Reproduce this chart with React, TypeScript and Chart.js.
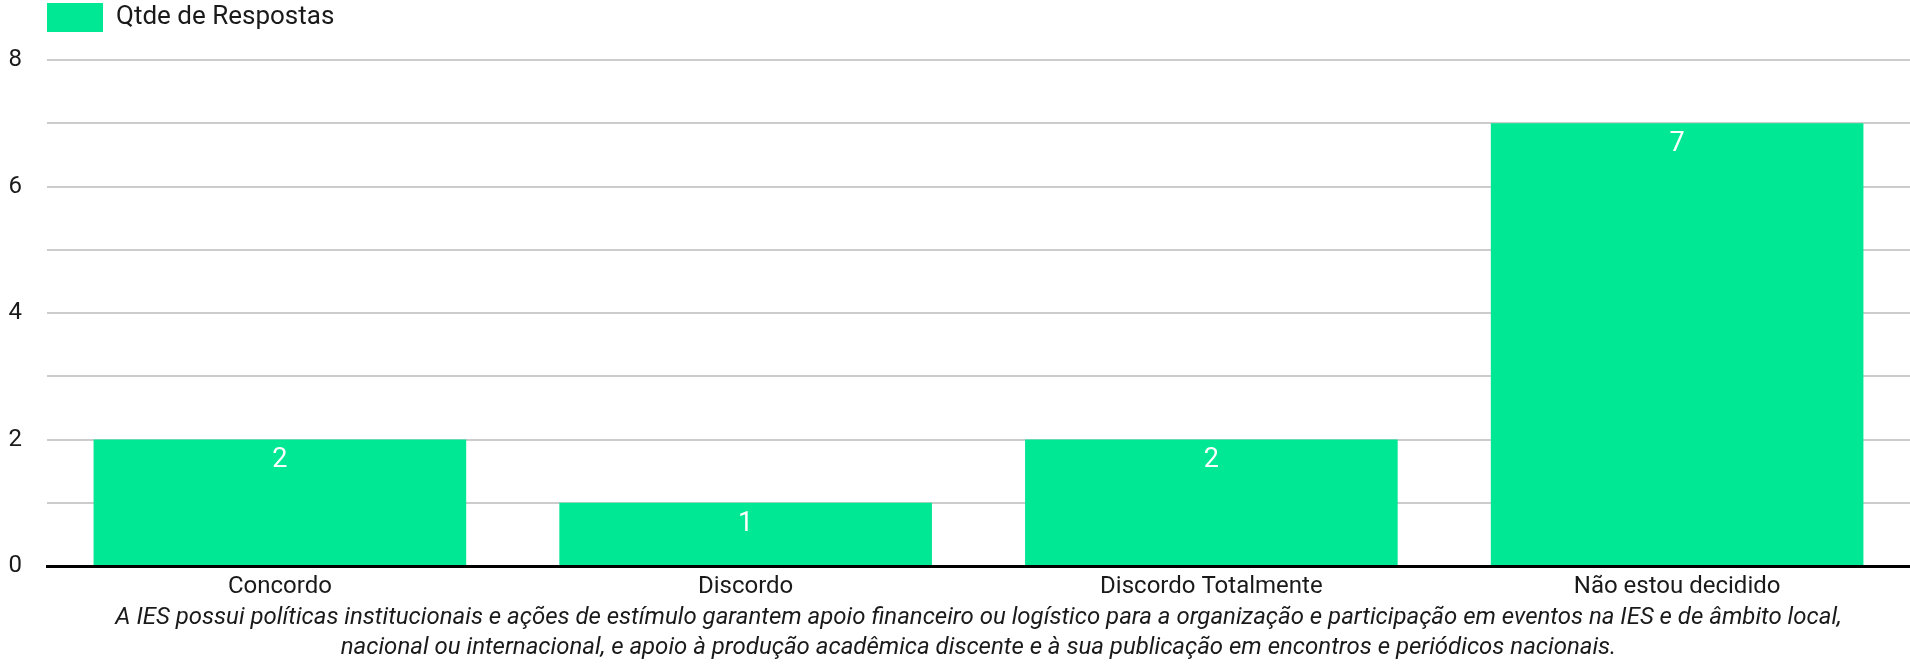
import React, { useEffect, useRef } from "react";
import { Chart, registerables } from "chart.js";

Chart.register(...registerables);

const categories = ["Concordo", "Discordo", "Discordo Totalmente", "Não estou decidido"];
const respostas = [2, 1, 2, 7];
const seriesLabel = "Qtde de Respostas";
const axisTitle = [
  "A IES possui políticas institucionais e ações de estímulo garantem apoio financeiro ou logístico para a organização e participação em eventos na IES e de âmbito local,",
  "nacional ou internacional, e apoio à produção acadêmica discente e à sua publicação em encontros e periódicos nacionais.",
];
const yMin = 0;
const yMax = 8;

const BAR_COLOR = "#00E893";
const TEXT_COLOR = "#1a1a1a";
const FONT = "Roboto";

const valueLabels = {
  id: "valueLabels",
  afterDatasetsDraw(chart: any) {
    const ctx = chart.ctx;
    chart.data.datasets.forEach((ds: any, di: number) => {
      const meta = chart.getDatasetMeta(di);
      meta.data.forEach((bar: any, i: number) => {
        ctx.save();
        ctx.fillStyle = "#ffffff";
        ctx.font = `27px ${FONT}`;
        ctx.textAlign = "center";
        ctx.textBaseline = "middle";
        ctx.fillText(String(ds.data[i]), bar.x, bar.y + 21);
        ctx.restore();
      });
    });
  },
};

export default function App() {
  const ref = useRef<HTMLCanvasElement | null>(null);
  useEffect(() => {
    if (!ref.current) return;
    const chart = new Chart(ref.current, {
      type: "bar",
      data: {
        labels: categories,
        datasets: [
          {
            label: seriesLabel,
            data: respostas,
            backgroundColor: BAR_COLOR,
            borderWidth: 0,
            categoryPercentage: 1,
            barPercentage: 0.8,
          },
        ],
      },
      options: {
        animation: false,
        responsive: true,
        maintainAspectRatio: false,
        layout: { padding: { top: 3, left: 0, right: 0, bottom: 0 } },
        plugins: {
          legend: {
            display: true,
            position: "top",
            align: "start",
            fullSize: false,
            labels: {
              boxWidth: 56,
              boxHeight: 29,
              padding: 0,
              color: TEXT_COLOR,
              font: { family: FONT, size: 26 },
            },
          },
          title: {
            display: true,
            text: "",
            position: "top",
            weight: 500,
            padding: 0,
            font: { size: 15, lineHeight: 1.2 },
          },
          tooltip: { enabled: false },
        },
        scales: {
          x: {
            afterFit: (scale: any) => {
              scale.height = 99;
            },
            grid: { display: false, drawTicks: false },
            border: { display: true, color: "#000000", width: 3 },
            ticks: {
              padding: 7,
              color: TEXT_COLOR,
              font: { family: FONT, size: 24 },
              maxRotation: 0,
              autoSkip: false,
            },
            title: {
              display: true,
              text: axisTitle,
              color: TEXT_COLOR,
              font: { family: FONT, size: 24, style: "italic", lineHeight: 1.25 },
              padding: { top: 1.5, bottom: 2.5 },
            },
          },
          y: {
            min: yMin,
            max: yMax,
            afterFit: (scale: any) => {
              scale.width = 47;
            },
            grid: { color: "#cccccc", lineWidth: 2, drawTicks: false },
            border: { display: false },
            ticks: {
              stepSize: 1,
              padding: 25,
              color: TEXT_COLOR,
              font: { family: FONT, size: 24 },
              callback: (v: any) => (Number(v) % 2 === 0 ? String(v) : ""),
            },
          },
        },
      },
      plugins: [valueLabels],
    });
    return () => chart.destroy();
  }, []);
  return (
    <div style={{ position: "absolute", left: 0, top: 0, width: 1910, height: 665 }}>
      <canvas ref={ref} />
    </div>
  );
}
